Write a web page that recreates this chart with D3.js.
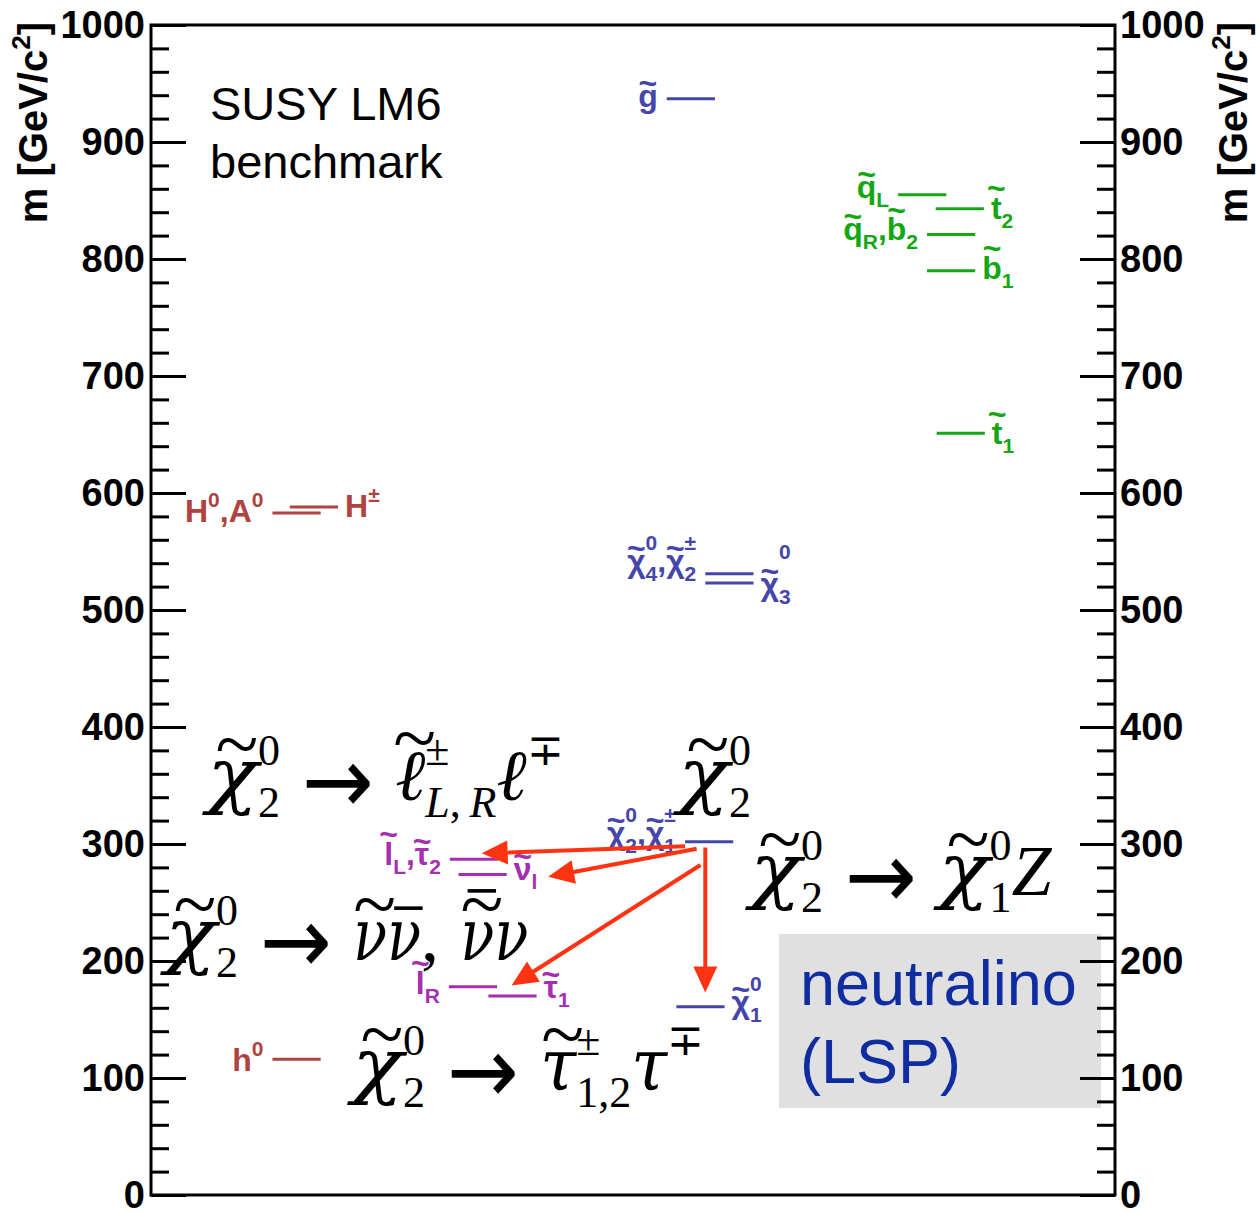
<!DOCTYPE html>
<html>
<head>
<meta charset="utf-8">
<script src="https://cdn.jsdelivr.net/npm/d3@7"></script>
<style>
  body { margin: 0; background: #fff; }
  svg { display: block; }
</style>
</head>
<body>
<div id="chart"></div>
<script>
// LM6 mass spectrum, masses in GeV/c^2
var levelIds   = ["gluino", "qL", "t2", "qR", "b1", "t1", "H0A0", "Hpm", "chi4", "chi3",
                  "chi2", "lL", "nu", "lR", "tau1", "chi1", "h0"];
var levelMass  = [937, 855, 843, 821, 790, 651, 583, 588, 531, 523,
                  302, 287, 274, 178, 170, 161, 116];
var levelGroup = ["gaugino", "squark", "squark", "squark", "squark", "squark", "higgs", "higgs",
                  "gaugino", "gaugino", "gaugino", "slepton", "slepton", "slepton", "slepton",
                  "gaugino", "higgs"];
var levelLabel = ["g̃", "q̃_L", "t̃_2", "q̃_R,b̃_2", "b̃_1", "t̃_1", "H^0,A^0", "H^±",
                  "χ̃_4^0,χ̃_2^±", "χ̃_3^0", "χ̃_2^0,χ̃_1^±", "l̃_L,τ̃_2", "ν̃_l", "l̃_R", "τ̃_1",
                  "χ̃_1^0", "h^0"];

// decays of chi2^0 drawn as arrows (start / end mass)
var decayTo        = ["lL", "nu", "lR", "chi1"];
var decayFromMass  = [298, 296, 282, 297];
var decayToMass    = [292, 272, 179, 173];

var majorTicks = [0, 100, 200, 300, 400, 500, 600, 700, 800, 900, 1000];
var minorTicks = d3.range(0, 1001, 20);

var formulas = [
  "χ̃_2^0 → ℓ̃^±_{L,\u2009R}ℓ^∓",
  "χ̃_2^0",
  "χ̃_2^0 → χ̃_1^0Z",
  "χ̃_2^0 → ν̃ν̄, ν̃̄ν",
  "χ̃_2^0 → τ̃^±_{1,2}τ^∓"
];

// ---- layout ----
var W = 1256, H = 1212;
var frame = {left: 151, right: 1115, top: 25, bottom: 1195};
var groupColor = {gaugino: "#4646aa", squark: "#13a813", higgs: "#b0433f", slepton: "#a42fb0"};
// horizontal column (0..100 across the frame) and label side of each level
var levelPos = {
  gluino: {x: 53.5, side: "left",  dy: 8},
  qL:     {x: 77.5, side: "left",  dy: 3},
  t2:     {x: 81.4, side: "right", dy: 10},
  qR:     {x: 80.5, side: "left",  dy: 6},
  b1:     {x: 80.5, side: "right", dy: 8},
  t1:     {x: 81.5, side: "right", dy: 11},
  H0A0:   {x: 12.6, side: "left",  dy: 9},
  Hpm:    {x: 14.4, side: "right", dy: 10},
  chi4:   {x: 57.5, side: "left",  dy: -2},
  chi3:   {x: 57.5, side: "right", dy: 12, rise: 36},
  chi2:   {x: 55.4, side: "left",  dy: 2},
  lL:     {x: 31.0, side: "left",  dy: 6},
  nu:     {x: 31.9, side: "right", dy: 6},
  lR:     {x: 30.9, side: "left",  dy: 7},
  tau1:   {x: 35.0, side: "right", dy: 2},
  chi1:   {x: 54.5, side: "right", dy: 6},
  h0:     {x: 12.6, side: "left",  dy: 12}
};
var levelWidth = 5;
var arrowX0 = [55.4, 56.6, 57.0, 57.5];
var arrowX1 = [34.3, 41.2, 37.4, 57.5];
var formulaPos = [[207, 800], [678, 800], [750, 895], [165, 960], [352, 1090]];

var svg = d3.select("#chart").append("svg")
  .attr("width", W)
  .attr("height", H);

var y = d3.scaleLinear().domain([0, 1000]).range([frame.bottom, frame.top]);
var x = d3.scaleLinear().domain([0, 100]).range([frame.left, frame.right]);

// split "a_b^c" style strings into base runs and scripts
function parseMath(str) {
  var chars = Array.from(str), out = [], i = 0;
  var isMark = function (c) { return /\p{M}/u.test(c); };
  while (i < chars.length) {
    var c = chars[i];
    if (c === "_" || c === "^") {
      var arg;
      i++;
      if (chars[i] === "{") {
        var j = chars.indexOf("}", i);
        arg = chars.slice(i + 1, j).join("");
        i = j + 1;
      } else {
        arg = chars[i]; i++;
        while (i < chars.length && isMark(chars[i])) { arg += chars[i]; i++; }
      }
      var key = c === "_" ? "sub" : "sup";
      var last = out[out.length - 1];
      if (last && last.type === "script" && !last[key]) last[key] = arg;
      else { var s = {type: "script"}; s[key] = arg; out.push(s); }
    } else {
      var b = c; i++;
      while (i < chars.length && isMark(chars[i])) { b += chars[i]; i++; }
      var lb = out[out.length - 1];
      if (lb && lb.type === "base") lb.s += b;
      else out.push({type: "base", s: b});
    }
  }
  return out;
}

// fonts for the TeX-like formulas (width in em stretches the glyph)
function serifFont(ch) {
  if (ch === "χ") return {family: "DejaVu Serif", style: "italic", scale: 1, dy: 0, width: 0.71};
  if (ch === "ν") return {family: "DejaVu Serif", style: "italic", scale: 1, dy: 0, width: 0.47};
  if (ch === "τ") return {family: "DejaVu Serif", style: "italic", scale: 1, dy: 0, width: 0.5};
  if (/[\u0370-\u03ff]/.test(ch)) return {family: "DejaVu Serif", style: "italic", scale: 1, dy: 0};
  if (ch === "→") return {family: "DejaVu Sans", style: "normal", scale: 1.3, dy: 0.18, width: 1.0};
  if (/\p{L}/u.test(ch)) return {family: "Liberation Serif", style: "italic", scale: 1, dy: 0};
  return {family: "Liberation Serif", style: "normal", scale: 1, dy: 0};
}
function sansFont() {
  return {family: "Liberation Sans", style: "normal", scale: 1, dy: 0};
}

function drawMath(parent, str, o) {
  var g = parent.append("g");
  var cx = 0;
  var fontOf = o.fontOf || sansFont;
  var col = o.color || "#000";

  // one base character plus its accents (tilde / bar) drawn on top
  function cluster(c, size, dy) {
    var cps = Array.from(c), base = cps[0], f = fontOf(base);
    var t = g.append("text")
      .attr("x", cx)
      .attr("y", dy + f.dy * size)
      .attr("fill", col)
      .style("font-weight", o.weight || "normal");
    var bt = t.append("tspan")
      .style("font-family", f.family)
      .style("font-style", f.style)
      .style("font-size", (size * f.scale) + "px")
      .text(base);
    var w;
    if (f.width) {
      w = f.width * size;
      bt.attr("textLength", w).attr("lengthAdjust", "spacingAndGlyphs");
    } else {
      w = bt.node().getComputedTextLength();
    }
    var tall = /[A-Zbdfhklt0-9ℓ]/.test(base);
    var level = tall ? o.accTall : o.accLow;
    var mid = cx + w / 2 + (o.skew || 0) * size;
    cps.slice(1).forEach(function (m) {
      if (m === "\u0303") {
        var ts = size * o.tildeScale;
        t.append("tspan")
          .attr("x", mid)
          .attr("y", dy - level * size + o.tildeMid * ts)
          .attr("text-anchor", "middle")
          .style("font-family", o.tildeFamily)
          .style("font-style", "normal")
          .style("font-size", ts + "px")
          .text("~");
        level += 0.24;
      } else if (m === "\u0304") {
        g.append("line")
          .attr("x1", mid - w * 0.42).attr("x2", mid + w * 0.42)
          .attr("y1", dy - level * size).attr("y2", dy - level * size)
          .attr("stroke", col)
          .attr("stroke-width", size * 0.05);
        level += 0.2;
      }
    });
    return w;
  }

  parseMath(str).forEach(function (p) {
    if (p.type === "base") {
      p.s.match(/\P{M}\p{M}*/gu).forEach(function (c) {
        if (c === " ") cx += o.size * (o.space || 0.28);
        else cx += cluster(c, o.size, 0);
      });
    } else {
      var start = cx, w = 0;
      [["sup", -o.rise], ["sub", o.drop]].forEach(function (k) {
        if (!p[k[0]]) return;
        cx = start;
        var ww = 0;
        p[k[0]].match(/\P{M}\p{M}*/gu).forEach(function (c) {
          var cw = cluster(c, o.script, k[1]);
          cx += cw; ww += cw;
        });
        w = Math.max(w, ww);
      });
      cx = start + w;
    }
  });
  var x0 = o.anchor === "end" ? o.x - cx : o.x;
  g.attr("transform", "translate(" + x0 + "," + o.y + ")");
  return g;
}

var labelStyle = {
  weight: "bold", fontOf: sansFont,
  size: 32, script: 21, drop: 9,
  tildeFamily: "Liberation Sans", tildeScale: 1.0, tildeMid: 0.33,
  accLow: 0.74, accTall: 0.95, skew: 0
};

// level lines and their labels
levelIds.forEach(function (id, i) {
  var p = levelPos[id], col = groupColor[levelGroup[i]];
  svg.append("line")
    .attr("x1", x(p.x)).attr("x2", x(p.x + levelWidth))
    .attr("y1", y(levelMass[i])).attr("y2", y(levelMass[i]))
    .attr("stroke", col)
    .attr("stroke-width", 3);
  var isChi = levelLabel[i].indexOf("χ") === 0;
  drawMath(svg, levelLabel[i], Object.assign({}, labelStyle, {
    x: p.side === "left" ? x(p.x) - 9 : x(p.x + levelWidth) + 7,
    y: y(levelMass[i]) + p.dy,
    anchor: p.side === "left" ? "end" : "start",
    rise: p.rise || (isChi ? 22 : 15),
    color: col
  }));
});

// large decay formulas
formulas.forEach(function (f, i) {
  drawMath(svg, f, {
    x: formulaPos[i][0], y: formulaPos[i][1],
    fontOf: serifFont,
    size: 72, script: 44,
    rise: 35, drop: 17, space: 0.3,
    tildeFamily: "Liberation Serif", tildeScale: 1.1, tildeMid: 0.27,
    accLow: 0.72, accTall: 0.8, skew: 0.06
  });
});

// LSP box
svg.append("rect")
  .attr("x", 779).attr("y", 934)
  .attr("width", 322).attr("height", 174)
  .attr("fill", "#e0e0e0");
svg.append("text")
  .attr("x", 800).attr("y", 1005)
  .attr("fill", "#0f2ca0")
  .style("font-family", "Liberation Sans, Arial, sans-serif")
  .style("font-size", "63px")
  .text("neutralino");
svg.append("text")
  .attr("x", 800).attr("y", 1083)
  .attr("fill", "#0f2ca0")
  .style("font-family", "Liberation Sans, Arial, sans-serif")
  .style("font-size", "63px")
  .text("(LSP)");

// benchmark title
svg.append("text")
  .attr("x", 210).attr("y", 120)
  .style("font-family", "Liberation Sans, Arial, sans-serif")
  .style("font-size", "47px")
  .text("SUSY LM6");
svg.append("text")
  .attr("x", 210).attr("y", 178)
  .style("font-family", "Liberation Sans, Arial, sans-serif")
  .style("font-size", "47px")
  .text("benchmark");

// decay arrows
var arrowCol = "#ff3311";
decayTo.forEach(function (id, i) {
  var x0 = x(arrowX0[i]), y0 = y(decayFromMass[i]);
  var x1 = x(arrowX1[i]), y1 = y(decayToMass[i]);
  var ang = Math.atan2(y1 - y0, x1 - x0);
  var len = 26, half = 12;
  var bx = x1 - len * Math.cos(ang), by = y1 - len * Math.sin(ang);
  svg.append("line")
    .attr("x1", x0).attr("y1", y0)
    .attr("x2", bx + 4 * Math.cos(ang)).attr("y2", by + 4 * Math.sin(ang))
    .attr("stroke", arrowCol)
    .attr("stroke-width", 4);
  var px = -Math.sin(ang) * half, py = Math.cos(ang) * half;
  svg.append("path")
    .attr("d", "M" + x1 + "," + y1 + "L" + (bx + px) + "," + (by + py) +
               "L" + (bx - px) + "," + (by - py) + "Z")
    .attr("fill", arrowCol);
});

// axes: ticks inside the frame, labels outside
function styleAxis(g) {
  g.select(".domain").remove();
  g.selectAll(".tick line").attr("stroke", "#000").attr("stroke-width", 3);
  g.selectAll("text")
    .attr("fill", "#000")
    .style("font-family", "Liberation Sans, Arial, sans-serif")
    .style("font-weight", "bold")
    .style("font-size", "38px");
}
svg.append("g")
  .attr("transform", "translate(" + frame.left + ",0)")
  .call(d3.axisLeft(y).tickValues(minorTicks).tickSizeInner(-18).tickSizeOuter(0).tickFormat(""))
  .call(styleAxis);
svg.append("g")
  .attr("transform", "translate(" + frame.left + ",0)")
  .call(d3.axisLeft(y).tickValues(majorTicks).tickSizeInner(-35).tickSizeOuter(0).tickPadding(6)
    .tickFormat(d3.format("d")))
  .call(styleAxis);
svg.append("g")
  .attr("transform", "translate(" + frame.right + ",0)")
  .call(d3.axisRight(y).tickValues(minorTicks).tickSizeInner(-18).tickSizeOuter(0).tickFormat(""))
  .call(styleAxis);
svg.append("g")
  .attr("transform", "translate(" + frame.right + ",0)")
  .call(d3.axisRight(y).tickValues(majorTicks).tickSizeInner(-35).tickSizeOuter(0).tickPadding(5)
    .tickFormat(d3.format("d")))
  .call(styleAxis);

svg.append("rect")
  .attr("x", frame.left).attr("y", frame.top)
  .attr("width", frame.right - frame.left).attr("height", frame.bottom - frame.top)
  .attr("fill", "none")
  .attr("stroke", "#000")
  .attr("stroke-width", 3);

// axis titles, rotated
[[47, 22], [1247, 22]].forEach(function (p) {
  var t = svg.append("g").attr("transform", "translate(" + p[0] + "," + p[1] + ") rotate(-90)");
  drawMath(t, "m [GeV/c^2]", {
    x: 0, y: 0, anchor: "end",
    weight: "bold", size: 40, script: 26, rise: 17, drop: 0
  });
});
</script>
</body>
</html>
